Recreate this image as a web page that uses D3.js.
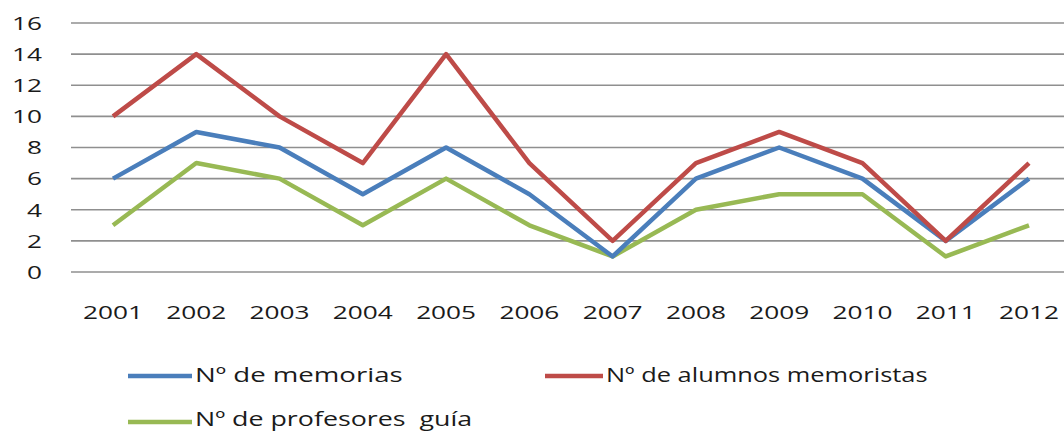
<!DOCTYPE html>
<html><head><meta charset="utf-8">
<script src="https://cdn.jsdelivr.net/npm/d3@7"></script>
<style>body{margin:0;background:#fff}svg{display:block}text{font-family:"Open Sans",sans-serif;fill:#1a1a1a}</style>
</head><body><svg id="c" width="1064" height="431"></svg>
<script>
const years = ["2001","2002","2003","2004","2005","2006","2007","2008","2009","2010","2011","2012"];
const memorias = [6,9,8,5,8,5,1,6,8,6,2,6];
const alumnos = [10,14,10,7,14,7,2,7,9,7,2,7];
const profesores = [3,7,6,3,6,3,1,4,5,5,1,3];
const yTicks = [0,2,4,6,8,10,12,14,16];
const seriesNames = ["Nº de memorias","Nº de alumnos memoristas","Nº de profesores  guía"];
const seriesColors = ["#4a7ebb","#be4b48","#98b954"];

const svg = d3.select("#c");
const SX = 1.38;
const x = d3.scalePoint().domain(years).range([113, 1029]);
const y = d3.scaleLinear().domain([0,16]).range([272, 23]);

// gridlines
svg.append("g").selectAll("line").data(yTicks).join("line")
  .attr("x1", 71).attr("x2", 1071)
  .attr("y1", d=>y(d)).attr("y2", d=>y(d))
  .attr("stroke", "#8f8f8f").attr("stroke-width", 1.6);

// y labels
svg.append("g").selectAll("text").data(yTicks).join("text")
  .attr("transform", d=>`translate(42,${y(d)}) scale(${SX},1)`)
  .attr("text-anchor","end").attr("dy","0.36em")
  .style("font-size","19px").text(d=>d);

// x labels
svg.append("g").selectAll("text").data(years).join("text")
  .attr("transform", d=>`translate(${x(d)},319) scale(${SX},1)`)
  .attr("text-anchor","middle")
  .style("font-size","19px").text(d=>d);

const line = d3.line().x((d,i)=>x(years[i])).y(d=>y(d));
const data = [memorias, alumnos, profesores];
[2,0,1].forEach(k=>{
  svg.append("path").datum(data[k]).attr("d", line)
    .attr("fill","none").attr("stroke", seriesColors[k])
    .attr("stroke-width", 4.5).attr("stroke-linejoin","round");
});

// legend
const leg = [
  {k:0, x:128, y:376, w:64, s:SX, ty:382},
  {k:1, x:545, y:376, w:58, s:1.27, ty:382},
  {k:2, x:128, y:422, w:64, s:1.34, ty:426}
];
leg.forEach(l=>{
  svg.append("line").attr("x1", l.x).attr("x2", l.x+l.w)
    .attr("y1", l.y).attr("y2", l.y)
    .attr("stroke", seriesColors[l.k]).attr("stroke-width", 4.5);
  svg.append("text").attr("transform",`translate(${l.x+l.w+3},${l.ty}) scale(${l.s},1)`)
    .style("font-size","20px").style("white-space","pre").attr("xml:space","preserve")
    .text(seriesNames[l.k]);
});
</script></body></html>
